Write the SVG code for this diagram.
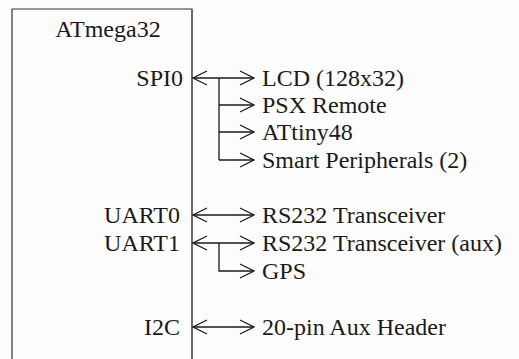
<svg xmlns="http://www.w3.org/2000/svg" width="519" height="359" viewBox="0 0 519 359">
<defs>
<marker id="ah" viewBox="0 0 16 16" refX="15" refY="8" markerWidth="16" markerHeight="16" markerUnits="userSpaceOnUse" orient="auto-start-reverse">
<path d="M1,1 L15,8 L1,15" fill="none" stroke="#1a1a1a" stroke-width="1.3"/>
</marker>
</defs>
<style>
.c{stroke:#1a1a1a;stroke-width:1.3;fill:none}
</style>
<rect width="519" height="359" fill="#fdfdfd"/>
<g id="mcu">
<path d="M12,359 V9 H192 V359" fill="none" stroke="#333" stroke-width="1.2"/>
<line x1="192" y1="9" x2="192" y2="359" stroke="#666" stroke-width="1.6"/>
<text x="108" y="37" text-anchor="middle" fill="#1a1a1a" style="font-family:'Liberation Serif',serif;font-size:24px">ATmega32</text>
<text text-anchor="end" x="183" y="86" fill="#1a1a1a" style="font-family:'Liberation Serif',serif;font-size:24px">SPI0</text>
<text text-anchor="end" x="180" y="223" fill="#1a1a1a" style="font-family:'Liberation Serif',serif;font-size:24px">UART0</text>
<text text-anchor="end" x="180" y="251" fill="#1a1a1a" style="font-family:'Liberation Serif',serif;font-size:24px">UART1</text>
<text text-anchor="end" x="180" y="335" fill="#1a1a1a" style="font-family:'Liberation Serif',serif;font-size:24px">I2C</text>
</g>
<g id="connectors">
<line class="c" x1="193" y1="78" x2="254" y2="78" marker-start="url(#ah)" marker-end="url(#ah)"/>
<path class="c" d="M219,78 V160"/>
<line class="c" x1="219" y1="105" x2="254" y2="105" marker-end="url(#ah)"/>
<line class="c" x1="219" y1="132" x2="254" y2="132" marker-end="url(#ah)"/>
<line class="c" x1="219" y1="160" x2="254" y2="160" marker-end="url(#ah)"/>
<line class="c" x1="193" y1="215" x2="254" y2="215" marker-start="url(#ah)" marker-end="url(#ah)"/>
<line class="c" x1="193" y1="243" x2="254" y2="243" marker-start="url(#ah)" marker-end="url(#ah)"/>
<path class="c" d="M219,243 V271 H254" marker-end="url(#ah)"/>
<line class="c" x1="193" y1="327" x2="254" y2="327" marker-start="url(#ah)" marker-end="url(#ah)"/>
</g>
<g id="lcd"><text x="262" y="86" fill="#1a1a1a" style="font-family:'Liberation Serif',serif;font-size:24px">LCD (128x32)</text></g>
<g id="psx"><text x="262" y="113" fill="#1a1a1a" style="font-family:'Liberation Serif',serif;font-size:24px">PSX Remote</text></g>
<g id="attiny"><text x="262" y="140" fill="#1a1a1a" style="font-family:'Liberation Serif',serif;font-size:24px">ATtiny48</text></g>
<g id="smart"><text x="262" y="168" fill="#1a1a1a" style="font-family:'Liberation Serif',serif;font-size:24px">Smart Peripherals (2)</text></g>
<g id="rs232"><text x="262" y="223" fill="#1a1a1a" style="font-family:'Liberation Serif',serif;font-size:24px">RS232 Transceiver</text></g>
<g id="rs232aux"><text x="262" y="251" fill="#1a1a1a" style="font-family:'Liberation Serif',serif;font-size:24px">RS232 Transceiver (aux)</text></g>
<g id="gps"><text x="262" y="279" fill="#1a1a1a" style="font-family:'Liberation Serif',serif;font-size:24px">GPS</text></g>
<g id="aux"><text x="262" y="335" fill="#1a1a1a" style="font-family:'Liberation Serif',serif;font-size:24px">20-pin Aux Header</text></g>
</svg>
